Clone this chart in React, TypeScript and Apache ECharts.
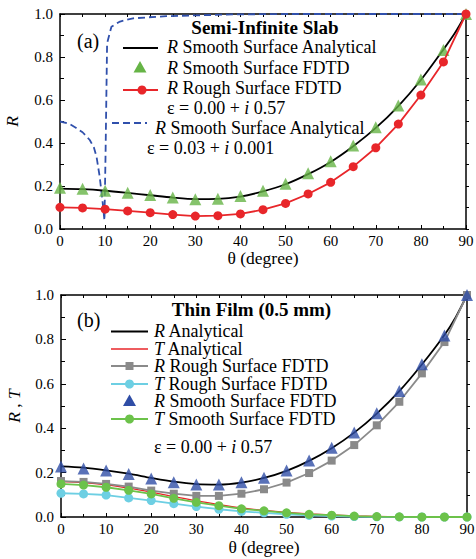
import React, { useEffect, useRef } from 'react';
import * as echarts from 'echarts';

const FONT = '"Liberation Serif", "Times New Roman", "DejaVu Serif", serif';

// ---- Panel (a): Semi-Infinite Slab ----
const slabAnalyticalR = [
  [0, 0.188], [5, 0.185], [10, 0.178], [15, 0.168], [20, 0.157], [25, 0.146], [30, 0.139],
  [35, 0.140], [40, 0.151], [45, 0.175], [50, 0.208], [55, 0.255], [60, 0.312], [65, 0.385],
  [70, 0.470], [75, 0.572], [80, 0.693], [85, 0.835], [87.5, 0.91], [90, 1.0],
];
const slabSmoothFDTD = [
  [0, 0.192], [5, 0.187], [10, 0.178], [15, 0.169], [20, 0.158], [25, 0.146], [30, 0.138],
  [35, 0.141], [40, 0.153], [45, 0.178], [50, 0.211], [55, 0.259], [60, 0.315], [65, 0.388],
  [70, 0.473], [75, 0.574], [80, 0.695], [85, 0.833], [90, 1.0],
];
const slabRoughFDTD = [
  [0, 0.101], [5, 0.098], [10, 0.092], [15, 0.084], [20, 0.076], [25, 0.067], [30, 0.060],
  [35, 0.062], [40, 0.070], [45, 0.090], [50, 0.119], [55, 0.163], [60, 0.217], [65, 0.290],
  [70, 0.378], [75, 0.488], [80, 0.623], [85, 0.777], [90, 1.0],
];
const slabLowEpsAnalytical = [
  [0, 0.50], [2, 0.49], [3.6, 0.47], [5, 0.45], [6.6, 0.414], [7.5, 0.38], [8.1, 0.336],
  [8.8, 0.243], [9.4, 0.135], [9.85, 0.04], [10.1, 0.35], [10.44, 0.864], [11.4, 0.941],
  [13.3, 0.965], [16.2, 0.98], [23.6, 0.99], [38.4, 0.998], [50, 1.0], [90, 1.0],
];

// ---- Panel (b): Thin Film (0.5 mm) ----
const filmRAnalytical = [
  [0, 0.228], [5, 0.222], [10, 0.210], [15, 0.195], [20, 0.176], [25, 0.159], [30, 0.148],
  [35, 0.146], [40, 0.155], [45, 0.176], [50, 0.208], [55, 0.253], [60, 0.310], [65, 0.380],
  [70, 0.466], [75, 0.567], [80, 0.687], [85, 0.820], [87.5, 0.90], [90, 1.0],
];
const filmTAnalytical = [
  [0, 0.160], [5, 0.155], [10, 0.145], [15, 0.130], [20, 0.112], [25, 0.092], [30, 0.073],
  [35, 0.056], [40, 0.041], [45, 0.030], [50, 0.021], [55, 0.014], [60, 0.009], [65, 0.005],
  [70, 0.003], [75, 0.001], [80, 0.0005], [90, 0],
];
const filmRRough = [
  [0, 0.162], [5, 0.158], [10, 0.149], [15, 0.137], [20, 0.119], [25, 0.105], [30, 0.095],
  [35, 0.095], [40, 0.105], [45, 0.125], [50, 0.155], [55, 0.198], [60, 0.254], [65, 0.324],
  [70, 0.413], [75, 0.519], [80, 0.647], [85, 0.788], [90, 1.0],
];
const filmTRough = [
  [0, 0.107], [5, 0.104], [10, 0.099], [15, 0.086], [20, 0.074], [25, 0.060], [30, 0.047],
  [35, 0.035], [40, 0.025], [45, 0.019], [50, 0.012], [55, 0.007], [60, 0.004], [65, 0.002],
  [70, 0.001], [75, 0.0005], [80, 0], [85, 0], [90, 0],
];
const filmRSmooth = [
  [0, 0.227], [5, 0.219], [10, 0.209], [15, 0.194], [20, 0.173], [25, 0.156], [30, 0.146],
  [35, 0.146], [40, 0.156], [45, 0.177], [50, 0.209], [55, 0.254], [60, 0.312], [65, 0.381],
  [70, 0.467], [75, 0.568], [80, 0.688], [85, 0.818], [90, 1.0],
];
const filmTSmooth = [
  [0, 0.149], [5, 0.144], [10, 0.134], [15, 0.120], [20, 0.104], [25, 0.084], [30, 0.066],
  [35, 0.051], [40, 0.037], [45, 0.028], [50, 0.019], [55, 0.012], [60, 0.008], [65, 0.004],
  [70, 0.002], [75, 0.001], [80, 0], [85, 0], [90, 0],
];

const X_NAME = 'θ (degree)';
const Y_NAME_A = '{i|R}';
const Y_NAME_B = '{i|R} , {i|T}';

const C = {
  black: '#000000',
  green: '#66b446',
  red: '#e8262a',
  blueDash: '#3050ac',
  blueTri: '#2f4da6',
  gray: '#8a8a8a',
  cyan: '#6dcfe3',
  greenT: '#6cc24a',
};

const LEG = 18;
const AXN = 17.5;

const italicRich = (size: number, lh?: number) => ({
  i: {
    fontStyle: 'italic', fontFamily: FONT, fontSize: size, fill: '#000', color: '#000',
    ...(lh ? { lineHeight: lh } : {}),
  },
});

function xAxes(gridIndex: number, nameGap: number) {
  const line = { show: true, onZero: false, lineStyle: { color: '#000', width: 1.5 } };
  return [
    {
      type: 'value', gridIndex, min: 0, max: 90, interval: 10, position: 'bottom',
      name: X_NAME, nameLocation: 'middle', nameGap,
      nameTextStyle: { fontFamily: FONT, fontSize: AXN, color: '#000' },
      axisLine: line,
      axisTick: { show: true, inside: true, length: 4, lineStyle: { color: '#000', width: 1 } },
      minorTick: { show: true, splitNumber: 2, length: 3, lineStyle: { color: '#000', width: 1 } },
      axisLabel: { fontFamily: FONT, fontSize: 15, color: '#000', margin: 4 },
      splitLine: { show: false },
    },
    {
      type: 'value', gridIndex, min: 0, max: 90, interval: 10, position: 'top',
      axisLine: line,
      axisTick: { show: true, inside: true, length: 3, lineStyle: { color: '#000', width: 1 } },
      minorTick: { show: true, splitNumber: 2, length: 3, lineStyle: { color: '#000', width: 1 } },
      axisLabel: { show: false },
      splitLine: { show: false },
    },
  ];
}

function yAxes(gridIndex: number, name: string, nameGap: number) {
  const line = { show: true, onZero: false, lineStyle: { color: '#000', width: 1.5 } };
  return [
    {
      type: 'value', gridIndex, min: 0, max: 1, interval: 0.2, position: 'left',
      name, nameLocation: 'middle', nameGap, nameRotate: 90,
      nameTextStyle: { fontFamily: FONT, fontSize: AXN, color: '#000', rich: italicRich(AXN) },
      axisLine: line,
      axisTick: { show: true, inside: true, length: 5, lineStyle: { color: '#000', width: 1 } },
      minorTick: { show: true, splitNumber: 2, length: 4, lineStyle: { color: '#000', width: 1 } },
      axisLabel: {
        fontFamily: FONT, fontSize: 15, color: '#000', margin: 7,
        formatter: (v: number) => v.toFixed(1),
      },
      splitLine: { show: false },
    },
    {
      type: 'value', gridIndex, min: 0, max: 1, interval: 0.2, position: 'right',
      axisLine: line,
      axisTick: { show: true, inside: false, length: 3, lineStyle: { color: '#000', width: 1 } },
      minorTick: { show: true, splitNumber: 2, length: 3, lineStyle: { color: '#000', width: 1 } },
      axisLabel: { show: false },
      splitLine: { show: false },
    },
  ];
}

const txt = (x: number, y: number, text: string, extra: any = {}) => ({
  type: 'text', x, y, silent: true,
  style: {
    text, fontFamily: FONT, fontSize: LEG, fill: '#000', lineHeight: 16,
    align: 'left', verticalAlign: 'middle', rich: italicRich(LEG, 16), ...extra,
  },
});
const seg = (x1: number, y: number, x2: number, stroke: string, extra: any = {}) => ({
  type: 'line', silent: true, shape: { x1, y1: y, x2, y2: y },
  style: { stroke, lineWidth: 1.8, ...extra },
});
const dot = (cx: number, cy: number, fill: string, r = 4.5) => ({
  type: 'circle', silent: true, shape: { cx, cy, r }, style: { fill },
});
const tri = (cx: number, cy: number, fill: string) => ({
  type: 'polygon', silent: true,
  shape: { points: [[cx, cy - 6.5], [cx - 6.5, cy + 5], [cx + 6.5, cy + 5]] },
  style: { fill },
});
const sq = (cx: number, cy: number, fill: string) => ({
  type: 'rect', silent: true, shape: { x: cx - 4, y: cy - 4, width: 8, height: 8 }, style: { fill },
});

const graphicA = [
  txt(265, 27, 'Semi-Infinite Slab', { align: 'center', fontWeight: 'bold', fontSize: 19 }),
  txt(77, 41, '(a)', { fontSize: 20, lineHeight: 20 }),
  seg(123, 48, 158, C.black),
  txt(167, 47, '{i|R} Smooth Surface Analytical'),
  tri(140, 67.5, C.green),
  txt(167, 68, '{i|R} Smooth Surface FDTD'),
  seg(123, 90, 158, C.red),
  dot(142, 90, C.red),
  txt(167, 88, '{i|R} Rough Surface FDTD'),
  txt(167, 108, 'ε = 0.00 + {i|i} 0.57'),
  seg(112, 123, 147, C.blueDash, { lineDash: [7, 4] }),
  txt(155, 128, '{i|R} Smooth Surface Analytical'),
  txt(147, 148, 'ε = 0.03 + {i|i} 0.001'),
];

const graphicB = [
  txt(251.5, 309, 'Thin Film (0.5 mm)', { align: 'center', fontWeight: 'bold', fontSize: 19 }),
  txt(77, 320, '(b)', { fontSize: 20, lineHeight: 20 }),
  seg(111, 331.5, 148, C.black),
  txt(154, 331, '{i|R} Analytical'),
  seg(111, 349, 148, C.red, { lineWidth: 1.3 }),
  txt(154, 349, '{i|T} Analytical'),
  seg(111, 366, 148, C.gray),
  sq(129.5, 366, C.gray),
  txt(154, 366, '{i|R} Rough Surface FDTD'),
  seg(111, 384, 148, C.cyan),
  dot(129.5, 384, C.cyan),
  txt(154, 384, '{i|T} Rough Surface FDTD'),
  tri(129.5, 401, C.blueTri),
  txt(154, 401, '{i|R} Smooth Surface FDTD'),
  seg(111, 419, 148, C.greenT),
  dot(129.5, 419, C.greenT),
  txt(154, 419, '{i|T} Smooth Surface FDTD'),
  txt(154, 447, 'ε = 0.00 + {i|i} 0.57'),
];

function buildOption() {
  return {
    animation: false,
    backgroundColor: '#fff',
    textStyle: { fontFamily: FONT },
    grid: [
      { left: 60, top: 14, width: 406, height: 215, containLabel: false, outerBoundsMode: 'none' },
      { left: 61, top: 295, width: 406, height: 222, containLabel: false, outerBoundsMode: 'none' },
    ],
    xAxis: [...xAxes(0, 19), ...xAxes(1, 21)],
    yAxis: [...yAxes(0, Y_NAME_A, 39), ...yAxes(1, Y_NAME_B, 38)],
    graphic: [...graphicA, ...graphicB],
    series: [
      {
        type: 'line', name: 'R Smooth Surface Analytical (ε = 0.03 + i 0.001)',
        xAxisIndex: 0, yAxisIndex: 0, data: slabLowEpsAnalytical, showSymbol: false,
        lineStyle: { color: C.blueDash, width: 1.8, type: [7, 4] }, z: 2,
      },
      {
        type: 'line', name: 'R Smooth Surface Analytical',
        xAxisIndex: 0, yAxisIndex: 0, data: slabAnalyticalR, showSymbol: false, smooth: 0.3,
        lineStyle: { color: C.black, width: 1.8 }, z: 3,
      },
      {
        type: 'scatter', name: 'R Smooth Surface FDTD',
        xAxisIndex: 0, yAxisIndex: 0, data: slabSmoothFDTD, symbol: 'triangle', symbolSize: 12,
        itemStyle: { color: C.green }, z: 4,
      },
      {
        type: 'line', name: 'R Rough Surface FDTD',
        xAxisIndex: 0, yAxisIndex: 0, data: slabRoughFDTD, symbol: 'circle', symbolSize: 9,
        itemStyle: { color: C.red }, lineStyle: { color: C.red, width: 1.8 }, z: 5,
      },
      {
        type: 'line', name: 'R Analytical',
        xAxisIndex: 2, yAxisIndex: 2, data: filmRAnalytical, showSymbol: false, smooth: 0.3,
        lineStyle: { color: C.black, width: 1.8 }, z: 2,
      },
      {
        type: 'line', name: 'T Analytical',
        xAxisIndex: 2, yAxisIndex: 2, data: filmTAnalytical, showSymbol: false, smooth: 0.3,
        lineStyle: { color: C.red, width: 1.3 }, z: 2,
      },
      {
        type: 'line', name: 'R Rough Surface FDTD',
        xAxisIndex: 2, yAxisIndex: 2, data: filmRRough, symbol: 'rect', symbolSize: 8,
        itemStyle: { color: C.gray }, lineStyle: { color: C.gray, width: 1.8 }, z: 3,
      },
      {
        type: 'line', name: 'T Rough Surface FDTD',
        xAxisIndex: 2, yAxisIndex: 2, data: filmTRough, symbol: 'circle', symbolSize: 9,
        itemStyle: { color: C.cyan }, lineStyle: { color: C.cyan, width: 1.8 }, z: 3,
      },
      {
        type: 'scatter', name: 'R Smooth Surface FDTD',
        xAxisIndex: 2, yAxisIndex: 2, data: filmRSmooth, symbol: 'triangle', symbolSize: 12,
        itemStyle: { color: C.blueTri }, z: 4,
      },
      {
        type: 'line', name: 'T Smooth Surface FDTD',
        xAxisIndex: 2, yAxisIndex: 2, data: filmTSmooth, symbol: 'circle', symbolSize: 9,
        itemStyle: { color: C.greenT }, lineStyle: { color: C.greenT, width: 1.8 }, z: 5,
      },
    ],
  };
}

export default function App() {
  const ref = useRef<HTMLDivElement>(null);
  useEffect(() => {
    if (!ref.current) return;
    const chart = echarts.init(ref.current, null, { renderer: 'svg' });
    chart.setOption(buildOption() as any);
    return () => chart.dispose();
  }, []);
  return (
    <div
      ref={ref}
      style={{ position: 'fixed', left: 0, top: 0, width: 476, height: 559, background: '#fff' }}
    />
  );
}
